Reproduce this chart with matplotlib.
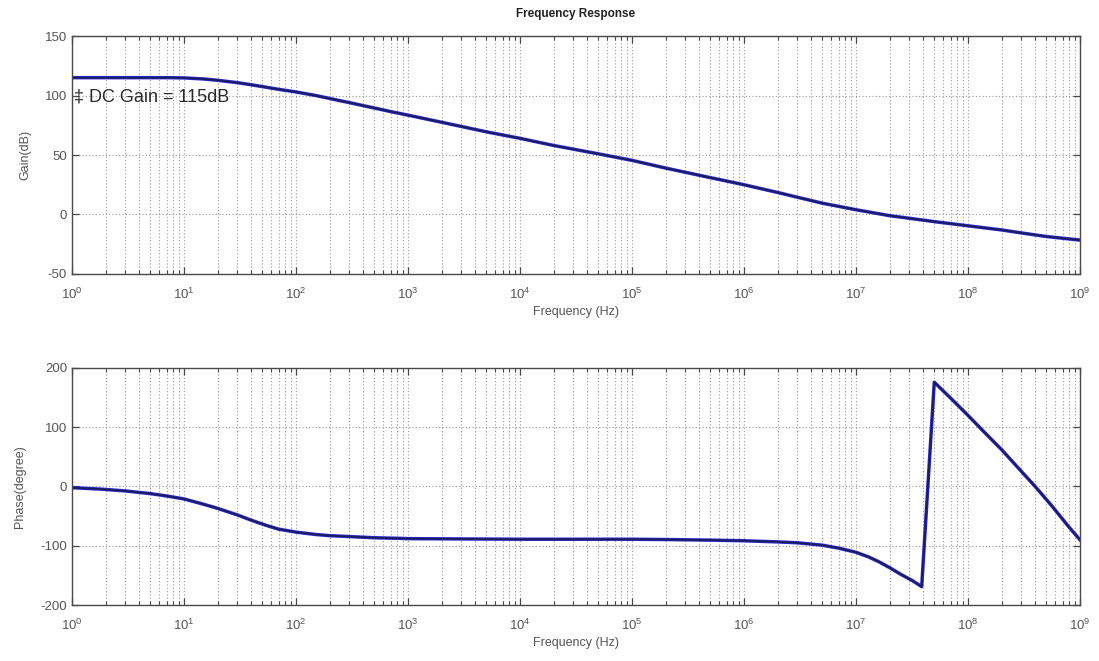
import matplotlib
matplotlib.use("Agg")
import matplotlib.pyplot as plt
from matplotlib.ticker import FixedLocator, LogFormatterMathtext, NullFormatter

plt.rcParams['font.family'] = ['Liberation Sans', 'DejaVu Sans']
plt.rcParams['mathtext.fontset'] = 'custom'
plt.rcParams['mathtext.rm'] = 'Liberation Sans'
plt.rcParams['mathtext.it'] = 'Liberation Sans'
plt.rcParams['mathtext.bf'] = 'Liberation Sans:bold'
plt.rcParams['axes.unicode_minus'] = False

# Open-loop gain (dB) versus frequency (Hz)
gain_freq = [1, 2, 3, 5, 7, 10, 15, 20, 30, 40, 50, 70, 100, 150, 200, 300, 500, 700,
             1e3, 2e3, 5e3, 1e4, 2e4, 5e4, 1e5, 2e5, 5e5,
             1e6, 2e6, 3e6, 5e6, 1e7, 2e7, 3e7, 5e7,
             1e8, 2e8, 3e8, 5e8, 1e9]
gain_db = [115, 115, 115, 115, 115, 114.8, 113.9, 112.8, 110.8, 109, 107.5, 105.2, 103, 100, 97.5, 94, 89.5, 86.5,
           83.5, 77.5, 69.5, 64, 58, 51, 45.5, 39, 31,
           25, 18.5, 14.5, 9.5, 4, -1, -3.2, -6,
           -9.5, -13, -15.5, -18.5, -21.5]

# Phase (degree) versus frequency (Hz)
phase_freq = [1, 1.8, 3, 5, 7, 10, 15, 20, 30, 40, 55, 70, 100, 150, 200, 300, 500, 850,
              1e3, 1e4, 1e5, 2e5, 5e5, 1e6, 2e6, 3e6, 5e6, 7e6,
              1e7, 1.3e7, 1.6e7, 2e7, 2.5e7, 3.2e7, 3.86e7,
              5e7, 7.1e7, 1e8, 1.41e8, 2e8, 2.82e8, 3.98e8, 5.62e8, 7.94e8, 1e9]
phase_deg = [-2, -4.4, -7.5, -12, -16, -21, -30, -37, -48, -57, -66, -72, -77, -81, -83, -84.5, -86.5, -87.5,
             -88, -89, -89, -89.5, -90.5, -91.6, -93.5, -95, -99, -104,
             -111, -119, -127, -137, -148, -159, -169,
             176, 148, 120, 91, 62, 31, 0, -33, -68, -90]

gain_ticks = [-50, 0, 50, 100, 150]
phase_ticks = [-200, -100, 0, 100, 200]
decades = [10.0 ** k for k in range(10)]

title_text = "Frequency Response"
xlabel_text = "Frequency (Hz)"
gain_label = "Gain(dB)"
phase_label = "Phase(degree)"
dc_note = "\u2021 DC Gain = 115dB"

tick_color = "#555555"
spine_color = "#4a4a4a"
grid_color = "#9a9a9a"

fig = plt.figure(figsize=(10.99, 6.61), dpi=100)
ax_g = fig.add_axes([0.0655, 0.5855, 0.9172, 0.3600])
ax_p = fig.add_axes([0.0655, 0.0847, 0.9172, 0.3586])


def style_axes(ax, yticks, ylabel):
    ax.set_xscale('log')
    ax.set_xlim(decades[0], decades[-1])
    ax.set_ylim(yticks[0], yticks[-1])
    ax.set_yticks(yticks)
    minors = [m * d for d in decades[:-1] for m in range(2, 10)]
    ax.xaxis.set_major_locator(FixedLocator(decades))
    ax.xaxis.set_minor_locator(FixedLocator(minors))
    ax.xaxis.set_major_formatter(LogFormatterMathtext())
    ax.xaxis.set_minor_formatter(NullFormatter())
    ax.grid(True, which='major', axis='both', linestyle=(0, (1, 2)),
            color=grid_color, linewidth=0.8)
    ax.grid(True, which='minor', axis='x', linestyle=(0, (1, 2)),
            color=grid_color, linewidth=0.8)
    ax.tick_params(which='both', direction='in', top=True, right=True,
                   colors=spine_color, labelcolor=tick_color, labelsize=9.5)
    ax.tick_params(which='major', length=5, width=0.9)
    ax.tick_params(which='minor', length=3, width=0.8)
    ax.tick_params(axis='x', which='major', pad=9)
    for sp in ax.spines.values():
        sp.set_color(spine_color)
        sp.set_linewidth(1.0)
    ax.set_xlabel(xlabel_text, color=tick_color, fontsize=9, labelpad=3)
    ax.set_ylabel(ylabel, color=tick_color, fontsize=9, labelpad=10)
    ax.set_axisbelow(True)


def draw_trace(ax, x, y):
    ax.plot(x, y, color='#2a2ad6', linewidth=2.5, solid_joinstyle='round')
    ax.plot(x, y, color='#1c1c5a', linewidth=1.3, solid_joinstyle='round')


style_axes(ax_g, gain_ticks, gain_label)
style_axes(ax_p, phase_ticks, phase_label)

draw_trace(ax_g, gain_freq, gain_db)
draw_trace(ax_p, phase_freq, phase_deg)

ax_g.set_title(title_text, fontsize=8.5, fontweight='bold', color='#222222', pad=14)
ax_g.text(1.04, 99, dc_note, fontsize=13, color='#2a2a2a', va='center', ha='left')

fig.savefig("out.png", dpi=100)
